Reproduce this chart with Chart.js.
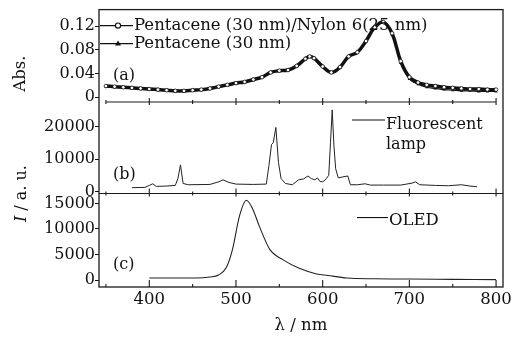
<!DOCTYPE html>
<html>
<head>
<meta charset="utf-8">
<script src="https://cdn.jsdelivr.net/npm/chart.js@4.4.0/dist/chart.umd.min.js"></script>
<style>
  html, body { margin: 0; padding: 0; background: #fff; }
  #wrap { position: relative; width: 523px; height: 347px; }
</style>
</head>
<body>
<div id="wrap"><canvas id="spectra" width="523" height="347"></canvas></div>
<script>
const SERIF = '"DejaVu Serif", "Liberation Serif", serif';

// (a) absorbance spectra
const absWavelengths = [350, 360, 370, 380, 390, 400, 410, 420, 430, 440, 450, 460, 470, 480, 490, 500,
  510, 520, 530, 540, 550, 560, 570, 580, 585, 590, 600, 610, 620, 630, 640, 650, 660, 670, 680, 690,
  700, 710, 720, 730, 740, 750, 760, 770, 780, 790, 800];
const absNylon = [0.019, 0.018, 0.017, 0.016, 0.015, 0.014, 0.013, 0.012, 0.011, 0.011, 0.012, 0.013, 0.015, 0.018, 0.021, 0.024,
  0.026, 0.030, 0.034, 0.042, 0.045, 0.046, 0.053, 0.065, 0.069, 0.066, 0.052, 0.042, 0.051, 0.069, 0.076, 0.095, 0.118, 0.127, 0.108, 0.061,
  0.034, 0.025, 0.021, 0.019, 0.017, 0.016, 0.015, 0.014, 0.014, 0.013, 0.013];
const absPentacene = [0.018, 0.017, 0.016, 0.015, 0.014, 0.013, 0.012, 0.011, 0.010, 0.010, 0.011, 0.012, 0.014, 0.017, 0.020, 0.023,
  0.025, 0.029, 0.034, 0.041, 0.044, 0.045, 0.052, 0.064, 0.068, 0.065, 0.051, 0.041, 0.050, 0.068, 0.075, 0.094, 0.117, 0.126, 0.106, 0.058,
  0.031, 0.022, 0.017, 0.015, 0.013, 0.012, 0.011, 0.011, 0.010, 0.010, 0.010];

// (b) fluorescent lamp emission
const lampWavelengths = [380, 395, 400, 404, 408, 420, 430, 433, 436, 439, 445, 470, 480, 485, 492, 500, 520, 535, 538, 541,
  543, 546, 549, 552, 557, 565, 572, 578, 583, 587, 591, 594, 597, 600, 603, 607, 609, 611, 613, 615,
  618, 623, 629, 632, 640, 649, 655, 670, 690, 703, 707, 712, 730, 745, 760, 770, 778];
const lampIntensity = [1200, 1300, 1900, 2400, 1600, 1700, 1900, 4000, 8200, 2500, 2100, 2200, 3000, 3600, 2800, 2300, 2200, 2300, 8000, 14500,
  15000, 19700, 9000, 4000, 2500, 2100, 3600, 3900, 4800, 4000, 3600, 4200, 3100, 3000, 3600, 5000, 15000, 25100, 14000, 7000,
  4200, 4500, 4800, 2100, 2100, 2400, 2000, 2000, 2000, 2600, 3000, 2100, 1900, 1800, 2100, 1700, 1500];

// (c) OLED emission
const oledWavelengths = [400, 420, 440, 455, 470, 480, 489, 496, 504, 512, 519, 527, 539, 554, 573, 593, 606, 628, 660, 700, 750, 800];
const oledIntensity = [400, 400, 400, 400, 600, 1000, 2500, 6000, 12500, 15600, 14000, 10500, 6000, 4000, 2300, 1200, 900, 400, 250, 200, 150, 100];

// ticks
const absTicks = [0, 0.04, 0.08, 0.12];
const absTickLabels = ['0', '0.04', '0.08', '0.12'];
const lampTicks = [0, 10000, 20000];
const lampTickLabels = ['0', '10000', '20000'];
const oledTicks = [0, 5000, 10000, 15000];
const oledTickLabels = ['0', '5000', '10000', '15000'];
const xMajor = [400, 500, 600, 700, 800];
const xMinor = [350, 450, 550, 650, 750];

function pts(xs, ys) {
  return xs.map((x, i) => ({x: x, y: ys[i]}));
}

function yAxis(ticks, labels, min, max, weight) {
  return {
    type: 'linear',
    position: 'left',
    stack: 'panels',
    stackWeight: weight,
    min: min,
    max: max,
    border: {display: false},
    grid: {drawOnChartArea: false, color: '#111', tickLength: 4, lineWidth: 1},
    ticks: {
      font: {family: SERIF, size: 16},
      color: '#111',
      padding: 0,
      autoSkip: false,
      callback: (v, i) => labels[i]
    },
    afterBuildTicks: s => { s.ticks = ticks.map(v => ({value: v})); },
    afterFit: s => { s.width = 99; }
  };
}

const frameAndTicks = {
  id: 'frameAndTicks',
  afterDatasetsDraw(chart) {
    const {ctx, chartArea: ca, scales} = chart;
    const xs = scales.x;
    const sepAB = scales.yAbs.bottom;
    const sepBC = scales.yLamp.bottom;
    ctx.save();
    ctx.strokeStyle = '#1a1a1a';
    ctx.lineWidth = 1.3;
    ctx.strokeRect(ca.left, ca.top, ca.right - ca.left, ca.bottom - ca.top);
    ctx.lineWidth = 1.1;
    ctx.beginPath();
    ctx.moveTo(xs.getPixelForValue(350), sepAB);
    ctx.lineTo(xs.getPixelForValue(800), sepAB);
    ctx.moveTo(ca.left, sepBC);
    ctx.lineTo(ca.right, sepBC);
    xMajor.forEach(v => {
      const px = xs.getPixelForValue(v);
      ctx.moveTo(px, sepAB - 4); ctx.lineTo(px, sepAB + 3);
      ctx.moveTo(px, sepBC - 5); ctx.lineTo(px, sepBC + 3);
      ctx.moveTo(px, ca.bottom); ctx.lineTo(px, ca.bottom - 7);
    });
    xMinor.forEach(v => {
      const px = xs.getPixelForValue(v);
      ctx.moveTo(px, sepAB - 2); ctx.lineTo(px, sepAB + 2);
      ctx.moveTo(px, sepBC - 2); ctx.lineTo(px, sepBC + 2);
      ctx.moveTo(px, ca.bottom); ctx.lineTo(px, ca.bottom - 3);
    });
    ctx.stroke();
    ctx.restore();
  }
};

const panelText = {
  id: 'panelText',
  afterDraw(chart) {
    const {ctx, chartArea: ca, scales} = chart;
    const yA = scales.yAbs, yB = scales.yLamp, yC = scales.yOled;
    ctx.save();
    ctx.fillStyle = '#111';
    ctx.strokeStyle = '#111';
    ctx.textAlign = 'left';
    ctx.textBaseline = 'middle';

    // panel letters
    ctx.font = '16px ' + SERIF;
    ctx.fillText('(a)', ca.left + 14, yA.top + 66);
    ctx.fillText('(b)', ca.left + 14, yB.top + 73);
    ctx.fillText('(c)', ca.left + 14, yC.top + 71);

    // legend (a)
    ctx.font = '16.5px ' + SERIF;
    const r1 = yA.top + 16, r2 = yA.top + 34;
    ctx.lineWidth = 1.2;
    ctx.beginPath();
    ctx.moveTo(ca.left + 1, r1); ctx.lineTo(ca.left + 34, r1);
    ctx.moveTo(ca.left + 1, r2); ctx.lineTo(ca.left + 34, r2);
    ctx.stroke();
    ctx.beginPath();
    ctx.fillStyle = '#fff';
    ctx.arc(ca.left + 19, r1, 2.6, 0, Math.PI * 2);
    ctx.fill(); ctx.stroke();
    ctx.fillStyle = '#111';
    ctx.beginPath();
    ctx.moveTo(ca.left + 19, r2 - 3.2);
    ctx.lineTo(ca.left + 22, r2 + 2);
    ctx.lineTo(ca.left + 16, r2 + 2);
    ctx.closePath();
    ctx.fill();
    ctx.fillText('Pentacene (30 nm)/Nylon 6(25 nm)', ca.left + 35, r1);
    ctx.fillText('Pentacene (30 nm)', ca.left + 35, r2);

    // legend (b)
    ctx.font = '16px ' + SERIF;
    ctx.lineWidth = 1.1;
    ctx.beginPath();
    ctx.moveTo(352, yB.top + 18); ctx.lineTo(385, yB.top + 18);
    ctx.stroke();
    ctx.textBaseline = 'alphabetic';
    ctx.fillText('Fluorescent', 386, yB.top + 27);
    ctx.fillText('lamp', 386, yB.top + 47);

    // legend (c)
    ctx.beginPath();
    ctx.moveTo(357, yC.top + 24); ctx.lineTo(388, yC.top + 24);
    ctx.stroke();
    ctx.font = '16.5px ' + SERIF;
    ctx.fillText('OLED', 389, yC.top + 31);

    // y axis titles
    ctx.textBaseline = 'middle';
    ctx.save();
    ctx.translate(21, yA.top + 64);
    ctx.rotate(-Math.PI / 2);
    ctx.textAlign = 'center';
    ctx.font = '16.5px ' + SERIF;
    ctx.fillText('Abs.', 0, 0);
    ctx.restore();

    ctx.save();
    ctx.translate(22, yB.bottom);
    ctx.rotate(-Math.PI / 2);
    ctx.font = 'italic 16px ' + SERIF;
    const wI = ctx.measureText('I').width;
    ctx.font = '16px ' + SERIF;
    const wRest = ctx.measureText(' / a. u.').width;
    const start = -(wI + wRest) / 2;
    ctx.textAlign = 'left';
    ctx.font = 'italic 16px ' + SERIF;
    ctx.fillText('I', start, 0);
    ctx.font = '16px ' + SERIF;
    ctx.fillText(' / a. u.', start + wI, 0);
    ctx.restore();

    ctx.restore();
  }
};

new Chart(document.getElementById('spectra'), {
  type: 'line',
  data: {
    datasets: [
      {
        label: 'Pentacene (30 nm)/Nylon 6(25 nm)',
        data: pts(absWavelengths, absNylon),
        yAxisID: 'yAbs',
        borderColor: '#111',
        borderWidth: 3.5,
        pointStyle: 'circle',
        pointRadius: 1.8,
        pointBackgroundColor: '#fff',
        pointBorderColor: '#111',
        pointBorderWidth: 0.8,
        tension: 0.4
      },
      {
        label: 'Pentacene (30 nm)',
        data: pts(absWavelengths, absPentacene),
        yAxisID: 'yAbs',
        borderColor: '#111',
        borderWidth: 1.2,
        pointStyle: 'triangle',
        pointRadius: 2,
        pointBackgroundColor: '#111',
        pointBorderWidth: 0,
        tension: 0.4
      },
      {
        label: 'Fluorescent lamp',
        data: pts(lampWavelengths, lampIntensity),
        yAxisID: 'yLamp',
        borderColor: '#222',
        borderWidth: 1,
        pointRadius: 0,
        tension: 0
      },
      {
        label: 'OLED',
        data: pts(oledWavelengths, oledIntensity),
        yAxisID: 'yOled',
        borderColor: '#222',
        borderWidth: 1.1,
        pointRadius: 0,
        cubicInterpolationMode: 'monotone'
      }
    ]
  },
  options: {
    responsive: false,
    animation: false,
    layout: {padding: {left: 0, right: 20, top: 5, bottom: 0}},
    plugins: {legend: {display: false}, tooltip: {enabled: false}},
    scales: {
      x: {
        type: 'linear',
        min: 342,
        max: 808,
        grid: {display: false, drawTicks: false},
        border: {display: false},
        ticks: {font: {family: SERIF, size: 16.5}, color: '#111', padding: 3, autoSkip: false, maxRotation: 0},
        afterBuildTicks: s => { s.ticks = xMajor.map(v => ({value: v})); },
        afterFit: s => { s.height = 60; },
        title: {display: true, text: 'λ / nm', color: '#111', font: {family: SERIF, size: 16.5}, padding: 11}
      },
      // stacked axes are laid out bottom-up in declaration order
      yOled: yAxis(oledTicks, oledTickLabels, -1350, 16920, 95),
      yLamp: yAxis(lampTicks, lampTickLabels, -600, 27500, 93),
      yAbs: yAxis(absTicks, absTickLabels, -0.008, 0.148, 94)
    }
  },
  plugins: [frameAndTicks, panelText]
});
</script>
</body>
</html>
